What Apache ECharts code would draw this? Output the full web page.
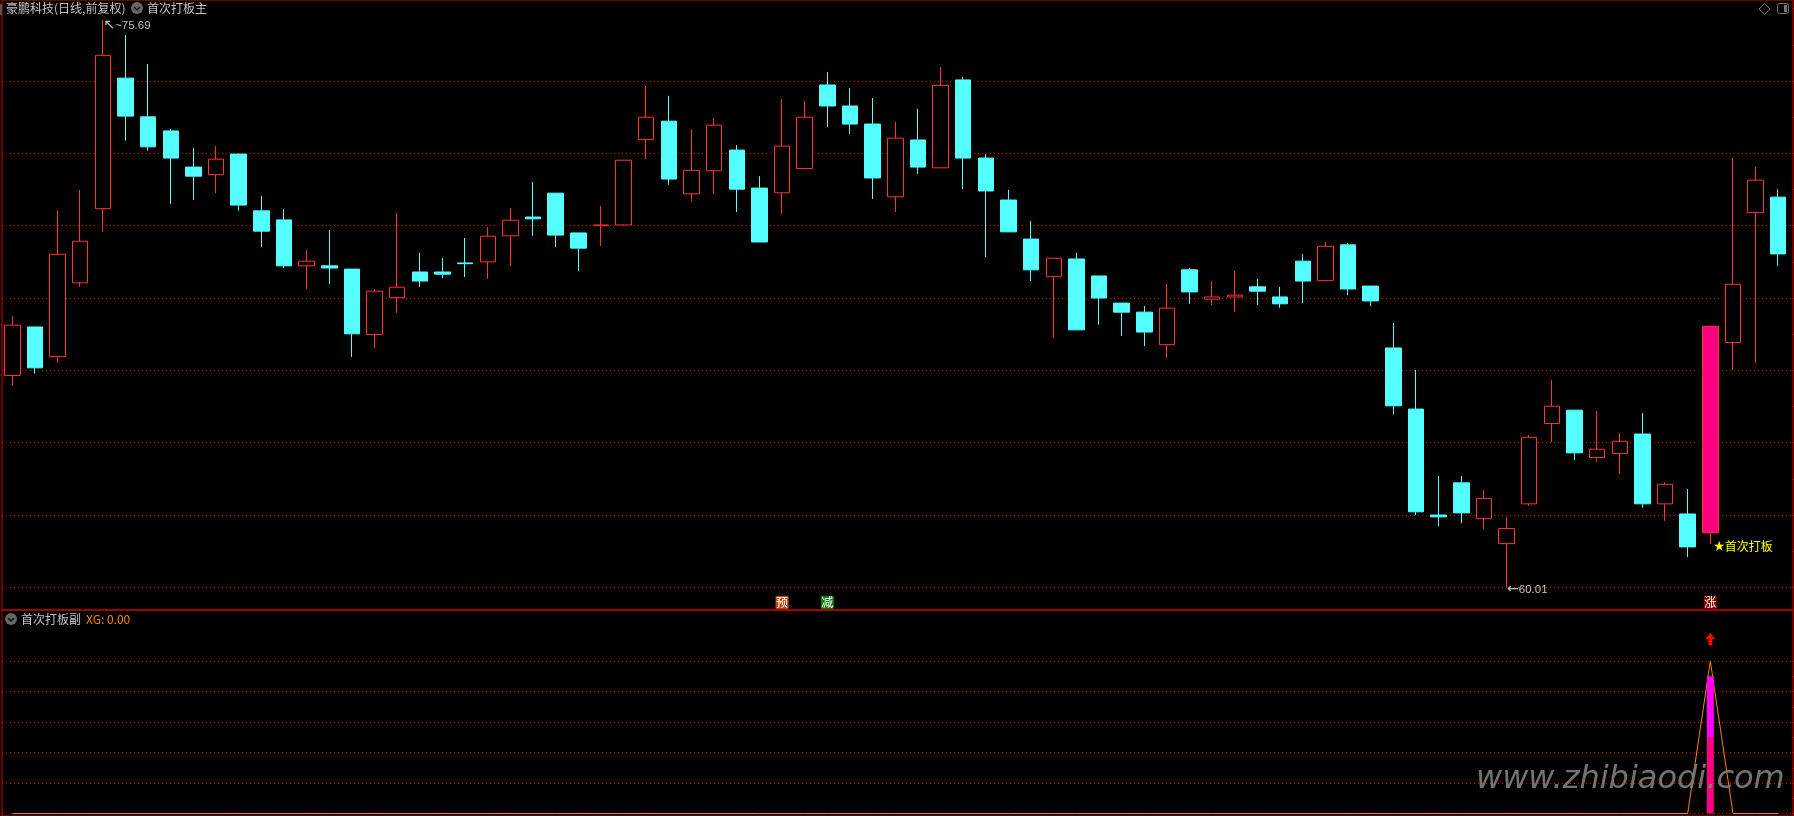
<!DOCTYPE html>
<html>
<head>
<meta charset="utf-8">
<style>
html, body { margin: 0; padding: 0; background: #000; }
#main { width: 1794px; height: 816px; }
</style>
<script src="https://cdn.jsdelivr.net/npm/echarts@6/dist/echarts.min.js"></script>
</head>
<body>
<div id="main"></div>
<script>
// K线数据 [开, 收, 低, 高]
var kline = [
    [65.86,67.25,65.58,67.50],[67.20,66.07,65.91,67.20],[66.38,69.21,66.21,70.43],[68.42,69.57,68.31,70.99],
    [70.47,74.71,69.83,75.69],[74.08,73.03,72.35,75.27],[73.01,72.18,72.07,74.47],[72.62,71.87,70.61,72.67],
    [71.62,71.37,70.71,72.15],[71.41,71.84,70.90,72.20],[71.98,70.57,70.41,72.00],[70.41,69.85,69.41,70.82],
    [70.16,68.89,68.83,70.46],[68.89,69.02,68.25,69.33],[68.89,68.83,68.39,69.88],[68.80,67.01,66.37,68.80],
    [66.99,68.19,66.62,68.25],[68.01,68.30,67.59,70.35],[68.72,68.47,68.31,69.25],[68.72,68.66,68.55,69.11],
    [68.97,68.95,68.58,69.66],[69.00,69.71,68.53,69.96],[69.72,70.15,68.89,70.49],[70.24,70.19,69.72,71.21],
    [70.90,69.74,69.41,70.90],[69.80,69.38,68.75,69.80],[70.00,70.02,69.44,70.54],[70.02,71.81,70.01,71.81],
    [72.38,73.00,71.84,73.86],[72.89,71.29,71.13,73.59],[70.88,71.53,70.68,72.67],[71.52,72.78,70.88,72.98],
    [72.09,71.01,70.38,72.23],[71.04,69.55,69.55,71.37],[70.91,72.20,70.32,73.50],[71.58,73.00,71.58,73.45],
    [73.89,73.31,72.73,74.25],[73.31,72.81,72.54,73.81],[72.81,71.32,70.74,73.53],[70.80,72.42,70.38,72.87],
    [72.37,71.62,71.43,73.23],[71.60,73.88,71.60,74.39],[74.03,71.87,71.01,74.11],[71.87,70.96,69.13,71.98],
    [70.71,69.83,69.83,70.99],[69.63,68.78,68.47,70.13],[68.59,69.10,66.90,69.10],[69.08,67.12,67.12,69.25],
    [68.61,68.00,67.26,68.61],[67.86,67.61,66.95,67.86],[67.61,67.06,66.67,67.78],[66.71,67.72,66.34,68.39],
    [68.78,68.17,67.84,68.83],[67.97,68.03,67.81,68.47],[68.03,68.08,67.61,68.75],[68.31,68.19,67.81,68.53],
    [68.03,67.84,67.73,68.31],[69.02,68.47,67.86,69.22],[68.48,69.43,68.47,69.55],[69.47,68.25,68.08,69.52],
    [68.33,67.92,67.78,68.33],[66.62,65.02,64.79,67.31],[64.93,62.09,62.00,66.01],[62.00,61.95,61.70,63.08],
    [62.89,62.06,61.78,63.08],[61.90,62.46,61.61,62.69],[61.21,61.63,60.01,61.95],[62.31,64.15,62.25,64.21],
    [64.53,65.01,64.02,65.73],[64.90,63.72,63.52,64.90],[63.59,63.82,63.47,64.88],[63.70,64.04,63.14,64.27],
    [64.24,62.31,62.20,64.82],[62.31,62.85,61.84,62.91],[62.03,61.12,60.84,62.72],[61.51,67.22,61.20,67.22],
    [66.77,68.38,66.01,71.87],[70.36,71.26,66.20,71.62],[70.79,69.22,68.89,71.01]
];
var days = kline.map(function (row, i) { return String(i + 1); });

// 副图 XG
var xgValues = [
    0,0,0,0,0,0,0,0,0,0,0,0,0,0,0,0,0,0,0,0,0,0,0,0,0,0,0,0,0,0,0,0,0,0,0,0,0,0,0,0,
    0,0,0,0,0,0,0,0,0,0,0,0,0,0,0,0,0,0,0,0,0,0,0,0,0,0,0,0,0,0,0,0,0,0,0,100,0,0,0
];
var xgPinkBar = [[75, 50]];
var xgMagentaBar = [[75, 40]];

var boardDay = 75;
var highMark = [4, 75.69];
var lowMark = [66, 60.01];
var badges = [
    {day: 34, text: '预', color: '#c04a10'},
    {day: 36, text: '减', color: '#0a7d0a'},
    {day: 75, text: '涨', color: '#800000'}
];

var RED = '#ff3232', CYAN = '#54ffff', GRID_RED = '#cc0000', FRAME_RED = '#d80000';
var CJK = '"Noto Sans CJK SC", sans-serif';
var STEP_W = 79 * 22.64;

var chart = echarts.init(document.getElementById('main'));

var candles = kline.map(function (row, i) {
    if (i !== boardDay) return row;
    return {value: row, itemStyle: {color: '#ff0080', borderColor: RED}};
});

function hiddenY(grid, extra) {
    return Object.assign({
        type: 'value', gridIndex: grid, axisLine: {show: false}, axisTick: {show: false},
        axisLabel: {show: false}, splitLine: {show: false}
    }, extra || {});
}
function hiddenX(grid) {
    return {type: 'category', gridIndex: grid, data: days, show: false};
}
function gridLineAxis(grid, min, max, interval, showMax) {
    return hiddenY(grid, {
        min: min, max: max, interval: interval,
        splitLine: {show: true, showMaxLine: showMax, lineStyle: {color: GRID_RED, width: 1, type: [1, 3]}}
    });
}
function tickAxis(grid, min, max, interval) {
    return hiddenY(grid, {
        min: min, max: max, interval: interval, position: 'right',
        axisTick: {show: true, length: 2, lineStyle: {color: FRAME_RED}}
    });
}

function extremeMark(coord, text, offset) {
    return {
        coord: coord, symbol: 'circle', symbolSize: 1, itemStyle: {color: 'rgba(0,0,0,0)'},
        label: {
            show: true, position: 'right', distance: 0, offset: offset, formatter: text, color: '#c0c0c0',
            fontFamily: '"Liberation Sans", sans-serif', fontSize: 11.5,
            rich: {a: {fontFamily: '"DejaVu Sans", sans-serif', fontSize: 14, color: '#c0c0c0'}}
        }
    };
}

var marks = badges.map(function (b) {
    return {
        coord: [b.day, 60], symbol: 'rect', symbolSize: 13, symbolOffset: [0, 15],
        itemStyle: {color: b.color},
        label: {show: true, position: 'inside', formatter: b.text, color: '#fff', fontFamily: CJK, fontSize: 12, lineHeight: 13}
    };
});
marks.push(extremeMark(highMark, '{a|↖}~' + highMark[1].toFixed(2), [0, 5.5]));
marks.push(extremeMark(lowMark, '{a|←}' + lowMark[1].toFixed(2), [0, 2.5]));
marks.push({
    coord: [boardDay, kline[boardDay][2]], symbol: 'circle', symbolSize: 1, itemStyle: {color: 'rgba(0,0,0,0)'},
    label: {
        show: true, position: 'right', distance: 0, offset: [3, 2], formatter: '{s|★}首次打板', color: '#ffff00',
        fontFamily: CJK, fontSize: 12, rich: {s: {fontSize: 11, color: '#ffff00', fontFamily: CJK}}
    }
});

function headerText(x, y, text, color) {
    return {
        type: 'text', x: x, y: y, z: 20,
        style: {text: text, fill: color, font: '12px ' + CJK, textVerticalAlign: 'middle'}
    };
}
function collapseIcon(x, y) {
    return {
        type: 'group', z: 20,
        children: [
            {type: 'circle', shape: {cx: x, cy: y, r: 6}, style: {fill: '#666'}},
            {type: 'polyline', shape: {points: [[x - 3, y - 1], [x, y + 2], [x + 3, y - 1]]}, style: {stroke: '#111', lineWidth: 1.5, fill: null}}
        ]
    };
}

var option = {
    backgroundColor: '#000',
    animation: false,
    grid: [
        {left: 1, width: STEP_W, top: 8.68, height: 578.72},                // 主图K线
        {left: 2, right: 1, top: 8.68, height: 578.72},                     // 主图网格线
        {left: 2, right: 1, top: -2, height: 612, show: true, borderColor: FRAME_RED, borderWidth: 1, backgroundColor: 'transparent'},
        {left: 1, width: STEP_W, top: 661, height: 152.5},                  // 副图
        {left: 2, right: 1, top: 661, height: 152.5},                       // 副图网格线
        {left: 2, right: 1, top: 610, height: 220, show: true, borderColor: FRAME_RED, borderWidth: 1, backgroundColor: 'transparent'}
    ],
    xAxis: [hiddenX(0), hiddenX(1), hiddenX(2), hiddenX(3), hiddenX(4), hiddenX(5)],
    yAxis: [
        hiddenY(0, {min: 60, max: 76}),
        gridLineAxis(1, 60, 76, 2, false),
        tickAxis(1, 60, 76, 1),
        hiddenY(2, {min: 0, max: 1}),
        hiddenY(3, {min: 0, max: 100}),
        gridLineAxis(4, 0, 100, 20, true),
        tickAxis(4, 0, 100, 10),
        hiddenY(5, {min: 0, max: 1})
    ],
    series: [
        {
            type: 'candlestick',
            xAxisIndex: 0,
            yAxisIndex: 0,
            barWidth: 16,
            z: 5,
            itemStyle: {color: '#000', color0: CYAN, borderColor: RED, borderColor0: CYAN, borderWidth: 1},
            data: candles,
            markPoint: {silent: true, animation: false, data: marks}
        },
        {
            type: 'line',
            xAxisIndex: 3,
            yAxisIndex: 4,
            data: xgValues,
            symbol: 'none',
            clip: false,
            z: 4,
            lineStyle: {color: '#ff8000', width: 1},
            markPoint: {
                silent: true, animation: false,
                data: [{
                    coord: [boardDay, 100], symbol: 'path://M5 0L10 6H7V12H3V6H0Z', symbolSize: [10, 12],
                    symbolOffset: [0, -22], itemStyle: {color: '#ff0000'}, label: {show: false}
                }]
            }
        },
        {type: 'bar', xAxisIndex: 3, yAxisIndex: 4, stack: 'xg', barWidth: 7, z: 5, itemStyle: {color: '#ff0080'}, data: xgPinkBar},
        {type: 'bar', xAxisIndex: 3, yAxisIndex: 4, stack: 'xg', barWidth: 7, z: 5, itemStyle: {color: '#ff00ff'}, data: xgMagentaBar}
    ],
    graphic: [
        {type: 'rect', shape: {x: 0, y: 4, width: 2, height: 11}, style: {fill: '#555'}, z: 20},
        headerText(6, 8, '豪鹏科技(日线,前复权)', '#c0c0c0'),
        collapseIcon(137, 8),
        headerText(147, 8, '首次打板主', '#c0c0c0'),
        collapseIcon(11, 619),
        headerText(21, 619, '首次打板副', '#c0c0c0'),
        headerText(86, 619, 'XG: 0.00', '#ff8000'),
        {type: 'polygon', z: 20, shape: {points: [[1764.5, 3.5], [1770, 9], [1764.5, 14.5], [1759, 9]]}, style: {stroke: '#777', fill: null, lineWidth: 1}},
        {type: 'rect', z: 20, shape: {x: 1777.5, y: 3.5, width: 11, height: 10, r: 2}, style: {stroke: '#777', fill: null, lineWidth: 1}},
        {type: 'rect', z: 20, shape: {x: 1784, y: 5, width: 3, height: 7}, style: {fill: '#777'}},
        {
            type: 'text', x: 1476, y: 796, z: 30,
            style: {
                text: 'www.zhibiaodi.com', fill: 'rgba(128,128,128,0.9)',
                font: 'italic 32px "DejaVu Sans", sans-serif', textVerticalAlign: 'bottom',
                shadowColor: 'rgba(110,110,110,0.5)', shadowBlur: 8, shadowOffsetY: 4
            }
        }
    ]
};

chart.setOption(option);
</script>
</body>
</html>
